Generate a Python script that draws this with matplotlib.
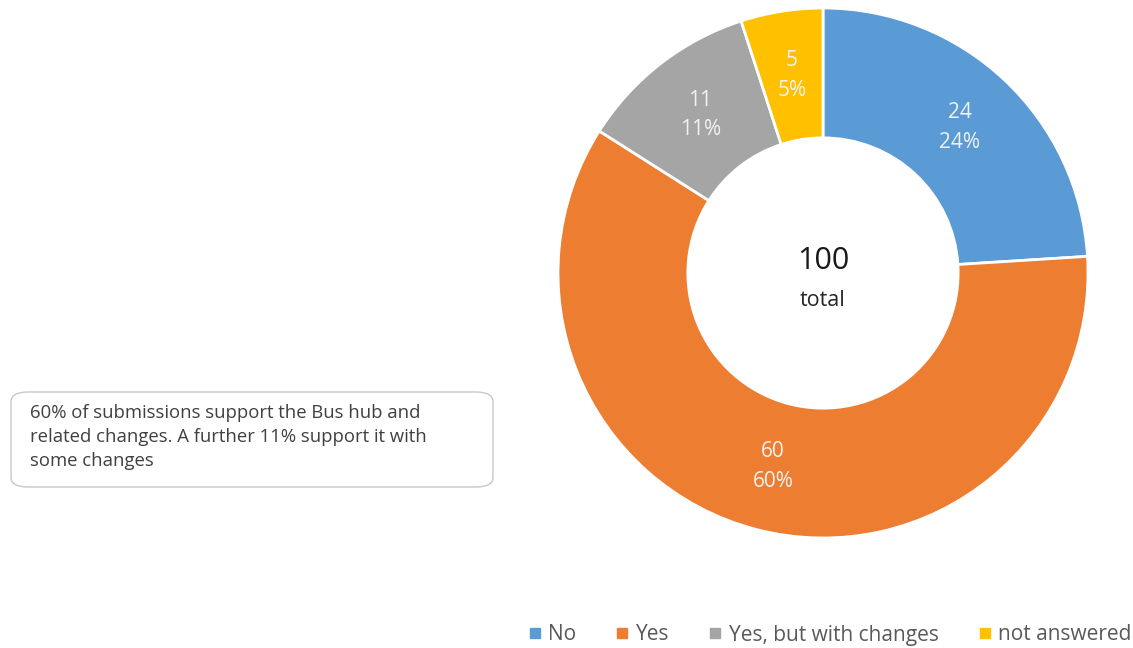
import numpy as np
import matplotlib.pyplot as plt
from matplotlib.patches import FancyBboxPatch
from matplotlib.lines import Line2D

categories = ["No", "Yes", "Yes, but with changes", "not answered"]
counts = [24, 60, 11, 5]
colors = ["#5B9BD5", "#ED7D31", "#A5A5A5", "#FFC000"]
total = sum(counts)
note = ("60% of submissions support the Bus hub and\n"
        "related changes. A further 11% support it with\n"
        "some changes")

plt.rcParams['font.family'] = ['Open Sans', 'DejaVu Sans']

W, H = 1133, 648
fig = plt.figure(figsize=(W / 100, H / 100), dpi=100)

# donut axes: centre (823, 273) px from top-left, radius 265 px
cx, cy, r = 823, 273, 265
ax = fig.add_axes([(cx - r) / W, (H - cy - r) / H, 2 * r / W, 2 * r / H])
wedges, _ = ax.pie(counts, colors=colors, startangle=90, counterclock=False,
                   radius=1, wedgeprops=dict(width=0.49, edgecolor="white", linewidth=2))
ax.set_xlim(-1, 1)
ax.set_ylim(-1, 1)
ax.set_aspect("equal")
ax.axis("off")

for w, c in zip(wedges, counts):
    mid = np.deg2rad((w.theta1 + w.theta2) / 2)
    x, y = 0.755 * np.cos(mid), 0.755 * np.sin(mid)
    ax.text(x, y, f"{c}\n{c / total:.0%}", ha="center", va="center",
            color="#F2F2F2", fontsize=15, linespacing=1.55)

ax.text(0, 0.045, f"{total}", ha="center", va="center", fontsize=22, color="#1a1a1a")
ax.text(0, -0.105, "total", ha="center", va="center", fontsize=15.5, color="#262626")

# note box on the left
box = FancyBboxPatch((11 / W, 1 - 487 / H), 482 / W, 95 / H,
                     boxstyle="round,pad=0,rounding_size=0.015",
                     transform=fig.transFigure, facecolor="white",
                     edgecolor="#C8C8C8", linewidth=1)
fig.patches.append(box)
fig.text(30 / W, 1 - 437 / H, note, ha="left", va="center", fontsize=13.3,
         color="#404040", linespacing=1.42)

handles = [Line2D([], [], marker="s", linestyle="", markersize=7.5,
                  markerfacecolor=c, markeredgecolor=c) for c in colors]
fig.legend(handles, categories, loc="center", bbox_to_anchor=(828 / W, 1 - 635 / H),
           ncol=4, frameon=False, fontsize=15, handletextpad=0.15,
           columnspacing=1.7, handlelength=1.0, labelcolor="#595959")

fig.savefig("out.png", dpi=100)
